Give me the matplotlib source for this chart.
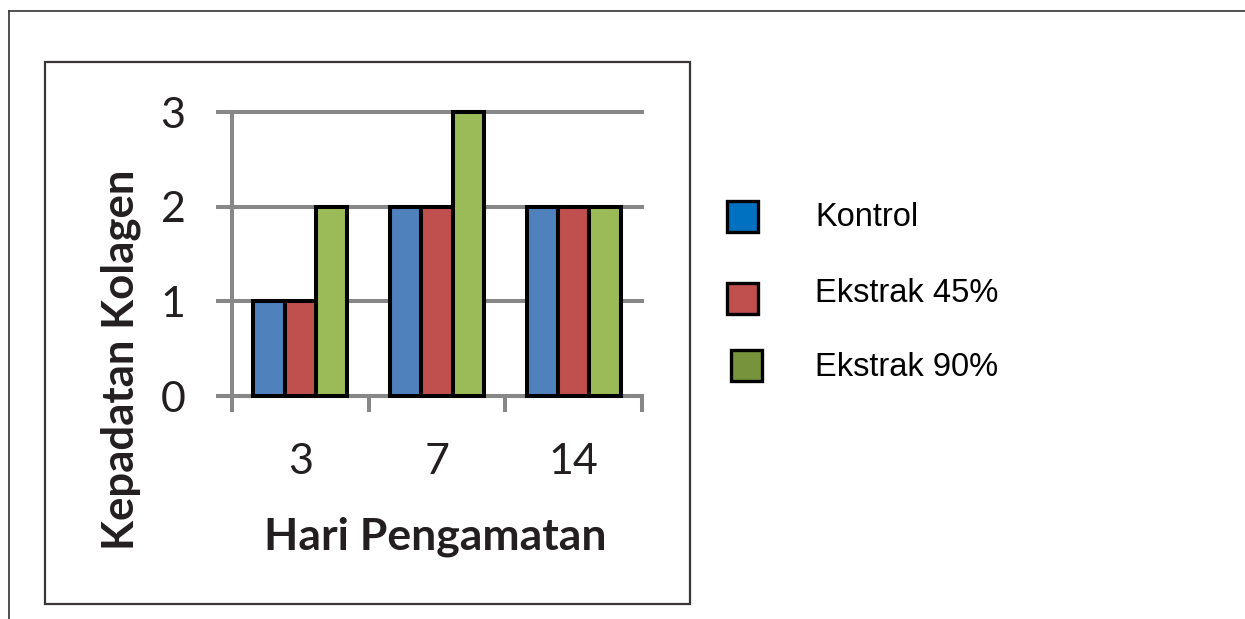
import matplotlib.pyplot as plt
import numpy as np
from matplotlib.patches import Rectangle
from matplotlib.lines import Line2D

# Data
days = ['3', '7', '14']
kontrol = [1, 2, 2]
ekstrak45 = [1, 2, 2]
ekstrak90 = [2, 3, 2]
series_names = ['Kontrol', 'Ekstrak 45%', 'Ekstrak 90%']
bar_colors = ['#4F81BD', '#C0504D', '#9BBB59']
legend_colors = ['#0070C0', '#C0504D', '#77933C']

W, H = 1245, 619
fig = plt.figure(figsize=(W / 100, H / 100), dpi=100)

def fx(px):
    return px / W

def fy(py):
    return 1 - py / H

# outer frame (top + left only) and inner chart box
fig.add_artist(Line2D([fx(9), 1], [fy(11), fy(11)], color='#333333', lw=1.2))
fig.add_artist(Line2D([fx(9), fx(9)], [fy(11), 0], color='#333333', lw=1.2))
fig.add_artist(Rectangle((fx(45), fy(604)), fx(690) - fx(45), fy(62) - fy(604),
                         fill=False, ec='#3a3636', lw=1.6))

ax = fig.add_axes([fx(232), fy(396), fx(642) - fx(232), fy(112) - fy(396)])

x = np.arange(len(days))
bw = 0.229
for i, vals in enumerate([kontrol, ekstrak45, ekstrak90]):
    ax.bar(x + (i - 1) * bw, vals, width=bw, color=bar_colors[i],
           edgecolor='black', linewidth=2.9, zorder=3, clip_on=False)

grid_c = '#878787'
ax.set_xlim(-0.5, 2.5)
ax.set_ylim(0, 3)
ax.set_yticks([0, 1, 2, 3])
ax.yaxis.grid(True, color=grid_c, linewidth=2.9, zorder=0)
for gl in ax.get_ygridlines():
    gl.set_clip_on(False)
ax.tick_params(axis='y', length=11.5, width=2.9, color=grid_c, pad=22,
               labelsize=31)
ax.set_xticks([-0.5, 0.5, 1.5, 2.5])
ax.set_xticklabels([])
ax.set_xticks(x, minor=True)
ax.set_xticklabels(days, minor=True)
ax.tick_params(axis='x', which='major', length=11.5, width=2.9, color=grid_c)
ax.tick_params(axis='x', which='minor', length=0, pad=34, labelsize=31)
for lab in ax.get_xticklabels(minor=True) + ax.get_yticklabels():
    lab.set_family('Lato')
    lab.set_color('#231f20')

for s in ['top', 'right']:
    ax.spines[s].set_visible(False)
for s in ['left', 'bottom']:
    ax.spines[s].set_color(grid_c)
    ax.spines[s].set_linewidth(2.9)

fig.text(fx(435), fy(537), 'Hari Pengamatan', ha='center', va='center',
         fontsize=32, fontweight='bold', family='Lato', color='#231f20')
fig.text(fx(121), fy(360), 'Kepadatan Kolagen', ha='center', va='center',
         rotation=90, fontsize=31.5, fontweight='bold', family='Lato',
         color='#231f20')

# legend, drawn by hand to keep the original uneven spacing
patch_boxes = [(727, 201), (727, 283), (731, 350)]
text_y = [217, 294, 368]
for (px, py), ty, name, c in zip(patch_boxes, text_y, series_names, legend_colors):
    fig.add_artist(Rectangle((fx(px), fy(py + 31)), fx(31), 31 / H,
                             facecolor=c, edgecolor='black', lw=2.4))
    fig.text(fx(815), fy(ty), name, ha='left', va='center', fontsize=23.5,
             family='Liberation Sans', color='black')

fig.savefig('out.png', dpi=100)
